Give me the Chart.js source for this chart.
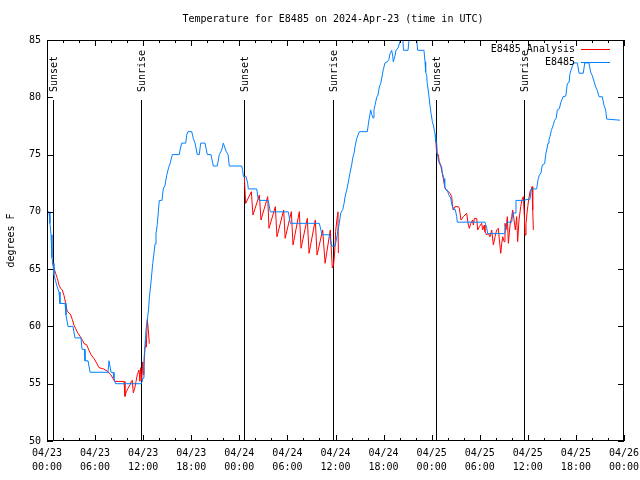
<!DOCTYPE html>
<html>
<head>
<meta charset="utf-8">
<title>Temperature for E8485</title>
<script src="https://cdn.jsdelivr.net/npm/chart.js@4.4.1/dist/chart.umd.min.js"></script>
<style>
  body { margin: 0; background: #fff; }
  canvas { display: block; }
</style>
</head>
<body>
<canvas id="tempChart" width="640" height="480"></canvas>
<script>
// hours since 04/23 00:00 UTC
const blueHours = [
  0, 0.25, 0.37, 0.5, 0.62, 0.75, 0.87, 1.06, 1.25, 1.5,
  1.62, 2.25, 2.37, 2.62, 3.24, 3.49, 4.24, 4.37, 4.68, 4.74,
  5.12, 5.37, 7.61, 7.74, 7.86, 7.99, 8.24, 8.36, 8.55, 11.79,
  11.98, 12.1, 12.19, 12.35, 12.52, 12.69, 12.77, 12.94, 13.06, 13.19,
  13.35, 13.48, 13.6, 13.76, 13.89, 14.01, 14.35, 14.51, 14.72, 14.94,
  15.19, 15.35, 15.64, 16.51, 16.6, 16.81, 17.31, 17.43, 17.59, 18.06,
  18.26, 18.47, 18.76, 19.0, 19.18, 19.72, 20.0, 20.46, 20.75, 21.25,
  21.5, 21.8, 22.0, 22.34, 22.59, 22.75, 24.3, 24.42, 24.5, 24.83,
  25.04, 25.12, 26.17, 26.33, 26.49, 27.61, 27.86, 30.11, 30.36, 33.98,
  34.19, 34.32, 35.23, 35.53, 35.94, 36.22, 36.47, 36.65, 36.9, 37.06,
  37.19, 37.4, 37.6, 37.81, 38.02, 38.15, 38.31, 38.47, 38.65, 38.97,
  39.97, 40.09, 40.22, 40.39, 40.52, 40.68, 40.8, 40.93, 41.14, 41.3,
  41.47, 41.64, 41.8, 41.96, 42.18, 42.46, 42.67, 42.8, 43.01, 43.14,
  43.21, 43.42, 43.55, 43.8, 44.05, 44.18, 44.36, 44.49, 45.05, 45.24,
  46.05, 46.26, 47.04, 47.17, 47.25, 47.38, 47.45, 47.63, 47.79, 47.92,
  48.08, 48.23, 48.42, 48.51, 48.63, 48.71, 48.83, 49.04, 49.23, 49.33,
  49.54, 49.63, 49.79, 49.95, 50.13, 50.37, 50.54, 50.7, 50.95, 51.12,
  51.2, 54.65, 54.87, 54.99, 57.15, 57.27, 57.44, 57.99, 58.11, 58.4,
  58.52, 59.43, 60.05, 60.27, 60.43, 61.1, 61.27, 61.43, 61.64, 61.81,
  62.1, 62.23, 62.35, 62.52, 62.64, 62.77, 62.93, 63.18, 63.35, 63.55,
  63.68, 63.93, 64.1, 64.39, 64.73, 64.93, 65.14, 65.27, 65.55, 65.68,
  66.18, 66.39, 66.92, 67.1, 67.63, 67.84, 68.04, 68.25, 68.47, 68.66,
  68.89, 69.29, 69.5, 69.71, 69.84, 71.5
];
const blueTemps = [
  70, 70, 69, 68, 66, 65.5, 64.5, 64, 63.5, 63,
  62, 62, 61, 60, 60, 59, 59, 58, 58, 57,
  57, 56, 56, 57, 57, 56, 56, 55.5, 55, 55,
  55.5, 57, 58, 59.7, 60.6, 61.6, 62.5, 63.6, 64.5, 65.5,
  66.4, 67.2, 68.1, 68.9, 70, 71, 71, 72, 72.3, 73.2,
  73.9, 74.2, 75, 75, 75.4, 76, 76, 76.7, 77, 77,
  76.4, 76, 75, 75, 76, 76, 75, 75, 74, 74,
  75, 75.4, 76, 75.3, 75, 74, 74, 73.6, 73.1, 73.1,
  72.5, 72, 72, 71.2, 71, 71, 70, 70, 69, 69,
  68.4, 68, 68, 67, 67, 68, 69, 69.9, 70.2, 70.7,
  71.3, 71.9, 72.6, 73.4, 74.1, 74.7, 75.1, 75.8, 76.4, 77,
  77, 77.6, 78.2, 78.9, 78.5, 78.2, 78.9, 79.3, 80, 80.2,
  80.9, 81.2, 81.8, 82.4, 83, 83.1, 83.3, 83.8, 84.1, 83.6,
  83.1, 83.6, 84.1, 84.3, 84.85, 85.5, 85.5, 84.1, 84.1, 85.5,
  85.5, 84.1, 84.1, 83.1, 82.2, 81.9, 81.2, 80.3, 79.3, 78.6,
  77.9, 77.5, 76.8, 76.1, 76, 75.1, 74.5, 74.1, 74, 73.4,
  72.9, 72.2, 71.9, 71.9, 71.5, 71.2, 70.6, 70.2, 70.2, 69.6,
  69.1, 69.1, 68.6, 68.1, 68.1, 68.85, 69.1, 69.1, 69.9, 69.9,
  71, 71, 71.1, 71.1, 72, 72, 72.8, 73.2, 73.4, 74.1,
  74.2, 75, 75.4, 76, 76.3, 76.6, 77.1, 77.6, 78, 78.2,
  78.9, 79, 79.5, 80.05, 80.1, 81.2, 81.3, 82.1, 82.7, 83,
  83, 82.1, 82.1, 83, 83, 82.2, 81.9, 81.4, 80.9, 80.6,
  80.05, 80.05, 79.3, 78.9, 78.1, 78
];

// analysis only exists at night; null breaks the line
const redHours = [
  0.66, 0.87, 1.09, 1.29, 1.5, 1.71, 1.91, 2.12, 2.33, 2.53,
  2.75, 2.96, 3.16, 3.37, 3.58, 3.78, 4.21, 4.4, 4.62, 4.95,
  5.24, 5.53, 5.86, 6.2, 6.49, 7.03, 7.52, 7.95, 8.45, 8.98,
  9.61, 9.73, 9.9, 10.11, 10.36, 10.52, 10.64, 10.77, 10.94, 11.11,
  11.27, 11.48, 11.6, 11.69, 11.82, 11.94, 12.02, 12.1, 12.23, 12.35,
  12.39, 12.52, 12.64, 12.77, 13,
  24.62, 24.79, 25.5, 25.7, 26.5, 26.7, 27.54, 27.7, 28.49, 28.7,
  29.53, 29.72, 30.49, 30.7, 31.49, 31.7, 32.48, 32.7, 33.48, 33.7,
  34.4, 34.7, 35.35, 35.6, 35.75, 35.9, 36.02, 36.22, 36.3, 36.36,
  37,
  48.5, 48.62, 48.83, 48.95, 49.12, 49.24, 49.45, 49.66, 49.87, 50.08,
  50.29, 50.5, 50.58, 50.7, 50.91, 51.33, 51.45, 51.66, 51.95, 52.37,
  52.58, 52.7, 52.87, 53.12, 53.2, 53.33, 53.62, 53.74, 53.95, 54.24,
  54.36, 54.57, 54.65, 54.86, 55.07, 55.28, 55.49, 55.7, 55.91, 56.11,
  56.32, 56.45, 56.62, 56.74, 56.87, 57.03, 57.15, 57.28, 57.44, 57.57,
  57.78, 57.99, 58.11, 58.28, 58.44, 58.61, 58.73, 58.9, 59.11, 59.27,
  59.44, 59.56, 59.65, 59.77, 59.94, 60.1, 60.27, 60.4, 60.52, 60.61,
  60.69
];
const redTemps = [
  65.6, 65.1, 64.6, 64.2, 63.6, 63.3, 63.2, 62.7, 62, 61.3,
  61.2, 61, 60.6, 60.1, 59.8, 59.5, 59.05, 58.8, 58.5, 58.4,
  57.9, 57.5, 57.2, 56.8, 56.4, 56.3, 56.1, 55.8, 55.2, 55.2,
  55.2, 53.9, 54.3, 54.6, 54.9, 55.2, 55.3, 54.2, 54.6, 55.2,
  55.8, 56.2, 55.2, 56.4, 55.3, 56.9, 55.8, 56.5, 58.2, 58.8,
  58.2, 60.6, 59.7, 58.5, null,
  73.07, 70.74, 71.76, 69.73, 71.47, 69.29, 71.33, 68.56, 70.45, 67.83,
  70.16, 67.69, 70.02, 67.11, 70.02, 66.82, 69.43, 66.38, 69.29, 66.23,
  68.42, 65.51, 68.42, 65.1, 65.3, 66.5, 68.3, 69.6, 70, 66.4,
  null,
  76.42, 75.11, 75, 74.38, 74.09, 73.65, 72.93, 72.05, 71.91, 71.76,
  71.62, 71.33, 70.74, 70.16, 70.45, 70.45, 70.31, 69.29, 69.58, 69.87,
  68.85, 68.56, 69, 69.29, 68.85, 69.43, 69.43, 68.42, 68.71, 69,
  68.42, 68.85, 68.27, 67.98, 68.13, 67.83, 68.42, 67.11, 67.83, 68.42,
  68.56, 67.54, 66.38, 67.25, 67.83, 67.4, 69, 68.42, 69.58, 67.25,
  68.85, 69.58, 70.16, 69.29, 68.42, 69.58, 67.4, 69.29, 70.45, 71.04,
  71.33, 69.73, 67.98, 69, 70.16, 71.04, 71.76, 71.91, 72.2, 70.16,
  68.42
];

const sunHours = [0.75, 11.73, 24.58, 35.69, 48.54, 59.52];
const sunLabels = ["Sunset", "Sunrise", "Sunset", "Sunrise", "Sunset", "Sunrise"];
const sunTop = 79.8;

const tickDates = ["04/23", "04/23", "04/23", "04/23", "04/24", "04/24", "04/24", "04/24", "04/25", "04/25", "04/25", "04/25", "04/26"];
const tickTimes = ["00:00", "06:00", "12:00", "18:00", "00:00", "06:00", "12:00", "18:00", "00:00", "06:00", "12:00", "18:00", "00:00"];

const FONT = '10px "DejaVu Sans Mono", monospace';

let bluePts = blueHours.map((h, i) => ({ x: h, y: blueTemps[i] }));
let redPts = redHours.map((h, i) => ({ x: h, y: redTemps[i] }));

// gnuplot look: sun markers, border, inward ticks, title, legend
const gnuplotBits = {
  id: "gnuplotBits",
  beforeDatasetsDraw(chart) {
    const ctx = chart.ctx;
    const xs = chart.scales.x, ys = chart.scales.y;
    const top = Math.round(ys.getPixelForValue(sunTop));
    const bottom = ys.getPixelForValue(50);
    ctx.save();
    ctx.strokeStyle = "#000";
    ctx.lineWidth = 1;
    ctx.font = FONT;
    ctx.fillStyle = "#000";
    ctx.textBaseline = "middle";
    ctx.textAlign = "left";
    sunHours.forEach((h, i) => {
      const px = Math.round(xs.getPixelForValue(h)) + 0.5;
      ctx.beginPath();
      ctx.moveTo(px, top);
      ctx.lineTo(px, bottom);
      ctx.stroke();
      ctx.save();
      ctx.translate(px + 1, top - 8);
      ctx.rotate(-Math.PI / 2);
      ctx.fillText(sunLabels[i], 0, 0);
      ctx.restore();
    });
    ctx.restore();
  },
  afterDraw(chart) {
    const ctx = chart.ctx;
    const a = chart.chartArea;
    const xs = chart.scales.x, ys = chart.scales.y;
    ctx.save();
    ctx.strokeStyle = "#000";
    ctx.lineWidth = 1;
    ctx.strokeRect(Math.round(a.left) + 0.5, Math.round(a.top) + 0.5,
      Math.round(a.right - a.left) - 1, Math.round(a.bottom - a.top) - 1);

    ctx.beginPath();
    for (let h = 0; h <= 72; h += 2) {
      const px = Math.round(xs.getPixelForValue(h)) + 0.5;
      const len = h % 6 === 0 ? 6 : 3;
      ctx.moveTo(px, a.bottom);
      ctx.lineTo(px, a.bottom - len);
      ctx.moveTo(px, a.top);
      ctx.lineTo(px, a.top + len);
    }
    for (let v = 50; v <= 85; v += 5) {
      const py = Math.round(ys.getPixelForValue(v)) + 0.5;
      ctx.moveTo(a.left, py);
      ctx.lineTo(a.left + 6, py);
      ctx.moveTo(a.right, py);
      ctx.lineTo(a.right - 6, py);
    }
    ctx.stroke();

    ctx.font = FONT;
    ctx.fillStyle = "#000";
    ctx.textBaseline = "middle";
    ctx.textAlign = "center";
    ctx.fillText("Temperature for E8485 on 2024-Apr-23 (time in UTC)", 333, 19);

    ctx.save();
    ctx.translate(11, (a.top + a.bottom) / 2);
    ctx.rotate(-Math.PI / 2);
    ctx.fillText("degrees F", 0, 0);
    ctx.restore();

    // legend, top right inside the plot
    const items = [chart.data.datasets[1], chart.data.datasets[0]];
    items.forEach((ds, i) => {
      const y = a.top + 9 + i * 13;
      ctx.textAlign = "right";
      ctx.fillStyle = "#000";
      ctx.fillText(ds.label, 575, y);
      ctx.strokeStyle = ds.borderColor;
      ctx.beginPath();
      ctx.moveTo(581, Math.round(y) + 0.5);
      ctx.lineTo(610, Math.round(y) + 0.5);
      ctx.stroke();
    });
    ctx.restore();
  }
};

new Chart(document.getElementById("tempChart"), {
  type: "line",
  data: {
    datasets: [
      {
        label: "E8485",
        data: bluePts,
        borderColor: "#0080ff",
        borderWidth: 1,
        pointRadius: 0,
        tension: 0,
        order: 0
      },
      {
        label: "E8485 Analysis",
        data: redPts,
        borderColor: "#ff0000",
        borderWidth: 1,
        pointRadius: 0,
        tension: 0,
        spanGaps: false,
        order: 1
      }
    ]
  },
  options: {
    responsive: false,
    animation: false,
    layout: { padding: { top: 40, right: 16, left: 0, bottom: 0 } },
    plugins: {
      legend: { display: false },
      tooltip: { enabled: false },
      title: { display: false }
    },
    scales: {
      x: {
        type: "linear",
        min: 0,
        max: 72,
        grid: { display: false, drawTicks: false },
        border: { display: false },
        afterFit: s => { s.height = 39; s.paddingLeft = 0; s.paddingRight = 0; },
        ticks: {
          stepSize: 6,
          autoSkip: false,
          maxRotation: 0,
          padding: 5,
          color: "#000",
          font: { family: '"DejaVu Sans Mono", monospace', size: 10, lineHeight: 1.4 },
          callback: v => {
            const i = Math.round(v / 6);
            return [tickDates[i], tickTimes[i]];
          }
        }
      },
      y: {
        min: 50,
        max: 85,
        grid: { display: false, drawTicks: false },
        border: { display: false },
        afterFit: s => { s.width = 47; s.paddingTop = 0; s.paddingBottom = 0; },
        ticks: {
          stepSize: 5,
          padding: 6,
          color: "#000",
          font: { family: '"DejaVu Sans Mono", monospace', size: 10 }
        }
      }
    }
  },
  plugins: [gnuplotBits]
});
</script>
</body>
</html>
